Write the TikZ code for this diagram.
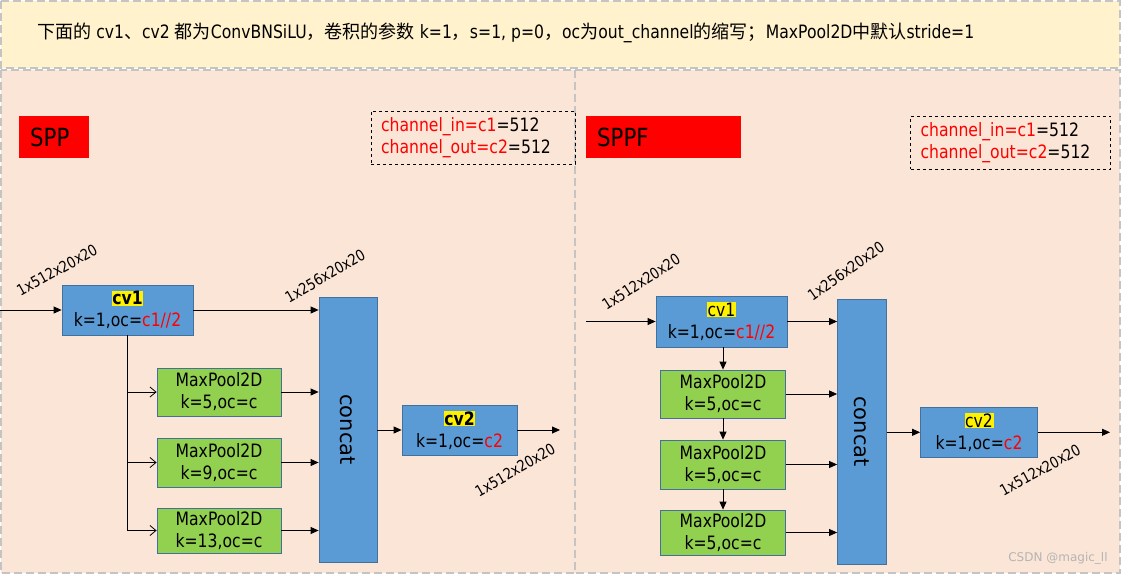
\documentclass[tikz,border=0pt]{standalone}
\usepackage{fontspec}
\setmainfont{DejaVu Sans}[FakeStretch=0.85]
\newfontfamily\cjk{Noto Sans CJK SC}[FakeStretch=0.98]
\newfontfamily\lblfont{DejaVu Sans}
\usetikzlibrary{arrows.meta}
\definecolor{bannerbg}{HTML}{FFF2CC}
\definecolor{panelbg}{HTML}{FBE5D6}
\definecolor{dashgray}{HTML}{C4C4C4}
\definecolor{boxblue}{HTML}{5B9BD5}
\definecolor{boxedge}{HTML}{41719C}
\definecolor{boxgreen}{HTML}{92D050}
\definecolor{wmgray}{HTML}{B4B4B4}
\newcommand\zh[1]{{\cjk #1}}
\newcommand\hlt[1]{{\setlength{\fboxsep}{0.6pt}\colorbox{yellow}{#1}}}
\newcommand\rd[1]{\textcolor{red}{#1}}
\tikzset{
  panelborder/.style={draw=dashgray, line width=2pt, dash pattern=on 8pt off 4pt},
  bannertext/.style={anchor=base west, inner sep=0pt, font=\fontsize{18.4}{22}\selectfont},
  bluebox/.style={draw=boxedge, fill=boxblue, line width=0.8pt, align=center, inner sep=0pt, font=\fontsize{18.4}{22}\selectfont},
  greenbox/.style={draw=boxedge, fill=boxgreen, line width=0.8pt, align=center, inner sep=0pt, font=\fontsize{18.4}{22}\selectfont},
  titlebox/.style={fill=red, inner sep=0pt},
  titletext/.style={anchor=west, inner sep=0pt, font=\fontsize{25}{30}\selectfont},
  infobox/.style={draw=black, dashed, line width=0.8pt, align=left, inner xsep=10pt, inner ysep=0pt, font=\fontsize{18.4}{21.7}\selectfont},
  cattext/.style={rotate=-90, inner sep=0pt, font=\lblfont\fontsize{21}{25}\selectfont},
  conn/.style={-{Triangle[length=8pt,width=7pt]}, line width=0.8pt, draw=black},
  plainline/.style={line width=0.8pt, draw=black},
  openconn/.style={-{Straight Barb[length=6pt,width=10pt]}, line width=0.8pt, draw=black},
  dimlabel/.style={inner sep=0pt, font=\fontsize{15.3}{18}\selectfont},
}
\begin{document}
\begin{tikzpicture}[x=1pt,y=-1pt]
\useasboundingbox (0,0) rectangle (1123,575);
% backgrounds
\draw[panelborder, fill=bannerbg] (1,1) rectangle (1120,68);
\draw[panelborder, fill=panelbg] (1,70) rectangle (575,573);
\draw[panelborder, fill=panelbg] (575,70) rectangle (1120,573);

% banner text
\node[bannertext] (banner) at (37,38.3)
  {\zh{下面的} cv1\zh{、}cv2 \zh{都为}ConvBNSiLU\zh{，卷积的参数} k=1\zh{，}s=1, p=0\zh{，}oc\zh{为}out\_channel\zh{的缩写；}MaxPool2D\zh{中默认}stride=1};

% ===== SPP =====
\node[titlebox, minimum width=70pt, minimum height=42pt] (sppbox) at (54,137) {};
\node[titletext] (spptxt) at (30,137) {SPP};
\node[infobox, minimum width=204pt, minimum height=53pt, text width=184pt] (infoL) at (473,137.5)
  {\rd{channel\_in=c1}=512\\\rd{channel\_out=c2}=512};

\node[bluebox, minimum width=131pt, minimum height=50pt] (cv1L) at (127.5,310)
  {\hlt{\textbf{cv1}}\\k=1,oc=\rd{c1//2}};
\node[bluebox, minimum width=58pt, minimum height=265pt] (catL) at (348,429.5) {};
\node[cattext] (catLt) at (catL.center) {concat};
\node[greenbox, minimum width=124pt, minimum height=48pt] (mp1L) at (219,392) {MaxPool2D\\k=5,oc=c};
\node[greenbox, minimum width=124pt, minimum height=49pt] (mp2L) at (219,462.5) {MaxPool2D\\k=9,oc=c};
\node[greenbox, minimum width=124pt, minimum height=45pt] (mp3L) at (219,530.5) {MaxPool2D\\k=13,oc=c};
\node[bluebox, minimum width=115pt, minimum height=50pt] (cv2L) at (459.5,430)
  {\hlt{\textbf{cv2}}\\k=1,oc=\rd{c2}};
\coordinate (inL) at (0,310);
\coordinate (outL) at (560,430);

\draw[conn] (inL) -- (cv1L.west);
\draw[conn] (cv1L.east) -- (cv1L.east -| catL.west);
\draw[plainline] (cv1L.south) -- (cv1L.south |- mp3L.west);
\foreach \m in {mp1L,mp2L,mp3L} {
  \draw[openconn] (cv1L.south |- \m.west) -- (\m.west);
  \draw[conn] (\m.east) -- (\m.east -| catL.west);
}
\draw[conn] (catL.east |- cv2L.west) -- (cv2L.west);
\draw[conn] (cv2L.east) -- (outL);

\node[dimlabel, rotate=29] (lblL1) at (57,270) {1x512x20x20};
\node[dimlabel, rotate=30] (lblL2) at (325,276) {1x256x20x20};
\node[dimlabel, rotate=30] (lblL3) at (515,470) {1x512x20x20};

% ===== SPPF =====
\node[titlebox, minimum width=155pt, minimum height=42pt] (sppfbox) at (663.5,137) {};
\node[titletext] (sppftxt) at (597,137) {SPPF};
\node[infobox, minimum width=200pt, minimum height=53pt, text width=180pt] (infoR) at (1010.5,142.7)
  {\rd{channel\_in=c1}=512\\\rd{channel\_out=c2}=512};

\node[bluebox, minimum width=131pt, minimum height=51pt] (cv1R) at (721.5,321.5)
  {\hlt{cv1}\\k=1,oc=\rd{c1//2}};
\node[bluebox, minimum width=49pt, minimum height=265pt] (catR) at (862,431.5) {};
\node[cattext] (catRt) at (catR.center) {concat};
\node[greenbox, minimum width=125pt, minimum height=48pt] (mp1R) at (723,394) {MaxPool2D\\k=5,oc=c};
\node[greenbox, minimum width=125pt, minimum height=49pt] (mp2R) at (723,464.5) {MaxPool2D\\k=5,oc=c};
\node[greenbox, minimum width=125pt, minimum height=45pt] (mp3R) at (723,532.5) {MaxPool2D\\k=5,oc=c};
\node[bluebox, minimum width=117pt, minimum height=50pt] (cv2R) at (979,432.3)
  {\hlt{cv2}\\k=1,oc=\rd{c2}};
\coordinate (inR) at (586,321.5);
\coordinate (outR) at (1110,432.3);

\draw[conn] (inR) -- (cv1R.west);
\draw[conn] (cv1R.east) -- (cv1R.east -| catR.west);
\draw[conn] (mp1R.north |- cv1R.south) -- (mp1R.north);
\draw[conn] (mp1R.south) -- (mp2R.north);
\draw[conn] (mp2R.south) -- (mp3R.north);
\foreach \m in {mp1R,mp2R,mp3R} {
  \draw[conn] (\m.east) -- (\m.east -| catR.west);
}
\draw[conn] (catR.east |- cv2R.west) -- (cv2R.west);
\draw[conn] (cv2R.east) -- (outR);

\node[dimlabel, rotate=33] (lblR1) at (641,282) {1x512x20x20};
\node[dimlabel, rotate=35] (lblR2) at (846,271) {1x256x20x20};
\node[dimlabel, rotate=29] (lblR3) at (1040,470) {1x512x20x20};

\node[inner sep=0pt, text=wmgray, font=\lblfont\fontsize{12}{14}\selectfont] (wm) at (1058,558) {CSDN @magic\_ll};
\end{tikzpicture}
\end{document}
